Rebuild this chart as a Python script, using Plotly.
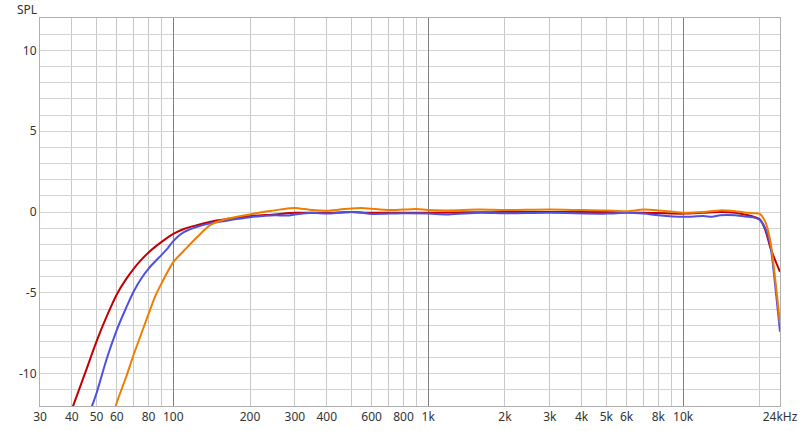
import plotly.graph_objects as go

# Frequencies (Hz) for each series
freq_red = [36, 40, 45, 50, 55, 60, 65, 70, 75, 80, 90, 100, 110, 125, 140, 160, 180, 200, 250, 300,
            400, 500, 600, 800, 1000, 1500, 2000, 3000, 5000, 7000, 10000, 12000, 14000, 16000,
            18000, 19000, 20000, 21000, 22000, 23000, 24000]
spl_red = [-14.0, -12.2, -10.0, -8.0, -6.4, -5.1, -4.2, -3.5, -2.95, -2.5, -1.85, -1.35, -1.05, -0.8,
           -0.6, -0.45, -0.35, -0.25, -0.15, -0.05, -0.05, 0.0, -0.05, -0.05, -0.05, -0.02, 0.0,
           0.0, 0.0, -0.05, -0.1, -0.05, 0.0, -0.05, -0.2, -0.3, -0.45, -1.1, -2.2, -3.0, -3.7]

freq_blue = [44, 48, 50, 55, 60, 65, 70, 75, 80, 85, 90, 95, 100, 110, 125, 140, 160, 180, 200, 250,
             280, 300, 350, 400, 450, 500, 550, 600, 800, 1000, 1200, 1600, 2000, 3000, 5000, 6000,
             7000, 8000, 10000, 12000, 13000, 14000, 16000, 18000, 19000, 20000, 21000, 22000,
             23000, 24000]
spl_blue = [-13.8, -12.0, -11.2, -9.0, -7.3, -6.0, -4.9, -4.1, -3.5, -3.05, -2.65, -2.25, -1.8, -1.25,
            -0.9, -0.7, -0.55, -0.42, -0.32, -0.2, -0.22, -0.15, -0.05, -0.1, -0.05, 0.0, -0.05,
            -0.12, -0.08, -0.1, -0.15, -0.05, -0.08, -0.05, -0.1, -0.05, -0.1, -0.2, -0.3, -0.25,
            -0.3, -0.2, -0.2, -0.3, -0.35, -0.5, -1.0, -2.1, -4.6, -7.4]

freq_orange = [55, 60, 65, 70, 75, 80, 85, 90, 100, 110, 125, 140, 160, 180, 200, 225, 250, 280, 300,
               350, 400, 450, 500, 550, 600, 700, 800, 900, 1000, 1200, 1600, 2000, 3000, 4000,
               5000, 6000, 7000, 8000, 10000, 12000, 14000, 16000, 18000, 19000, 20000, 21000,
               22000, 23000, 24000]
spl_orange = [-14.0, -11.8, -10.3, -8.8, -7.5, -6.3, -5.2, -4.4, -3.1, -2.4, -1.5, -0.8, -0.45,
              -0.28, -0.15, 0.0, 0.1, 0.22, 0.25, 0.12, 0.08, 0.15, 0.22, 0.25, 0.2, 0.12, 0.15,
              0.18, 0.12, 0.1, 0.15, 0.12, 0.15, 0.12, 0.1, 0.05, 0.15, 0.1, -0.05, 0.0, 0.1, 0.05,
              -0.05, -0.08, -0.12, -0.6, -1.8, -4.2, -6.9]

# Axis ticks
x_grid = [30, 40, 50, 60, 70, 80, 90, 100, 200, 300, 400, 500, 600, 700, 800, 900,
          1000, 2000, 3000, 4000, 5000, 6000, 7000, 8000, 9000, 10000, 20000, 24000]
x_text = ["30", "40", "50", "60", "", "80", "", "100", "200", "300", "400", "", "600", "",
          "800", "", "1k", "2k", "3k", "4k", "5k", "6k", "", "8k", "", "10k", "", "24kHz"]
decades = [100, 1000, 10000]
y_grid = list(range(-12, 13))
y_text = [str(v) if v % 5 == 0 else "" for v in y_grid]

fig = go.Figure()
fig.add_trace(go.Scatter(x=freq_red, y=spl_red, mode="lines", line=dict(color="#c00000", width=2, shape="spline", smoothing=0.8)))
fig.add_trace(go.Scatter(x=freq_blue, y=spl_blue, mode="lines", line=dict(color="#5050e0", width=2, shape="spline", smoothing=0.8)))
fig.add_trace(go.Scatter(x=freq_orange, y=spl_orange, mode="lines", line=dict(color="#f07c00", width=2, shape="spline", smoothing=0.8)))
# invisible trace to activate overlay axis for decade lines
fig.add_trace(go.Scatter(x=[30, 24000], y=[0, 0], mode="lines", line=dict(width=0), xaxis="x2",
                         hoverinfo="skip", showlegend=False, opacity=0))

font = dict(family="Noto Sans, Open Sans, sans-serif", size=12, color="#333333")
fig.update_layout(
    width=800, height=431,
    margin=dict(l=40, r=20, t=18, b=25, autoexpand=False),
    paper_bgcolor="white", plot_bgcolor="white",
    showlegend=False,
    font=font,
    xaxis=dict(type="log", range=[1.4771, 4.3802], tickmode="array", tickvals=x_grid, ticktext=x_text,
               showgrid=True, gridcolor="#c8c8c8", gridwidth=1, zeroline=False, tickangle=0,
               automargin=False, showline=True, linecolor="#b0b0b0", mirror=True, ticks="",
               tickfont=font),
    xaxis2=dict(type="log", range=[1.4771, 4.3802], overlaying="x", tickmode="array", tickvals=decades,
                showticklabels=False, showgrid=True, gridcolor="#808080", gridwidth=1, zeroline=False,
                showline=False, ticks="", automargin=False),
    yaxis=dict(range=[-12, 12], tickmode="array", tickvals=y_grid, ticktext=y_text,
               showgrid=True, gridcolor="#d4d4d4", gridwidth=1, zeroline=False, automargin=False,
               showline=True, linecolor="#b0b0b0", mirror=True, ticks="", tickfont=font),
    annotations=[dict(text="SPL", xref="paper", yref="paper", x=0, y=1, xanchor="right", yanchor="middle",
                      xshift=-1, yshift=9, showarrow=False, font=font)],
)
fig.write_html("out.html", config={"displayModeBar": False},
               post_script="document.body.style.margin='0';document.body.style.overflow='hidden';")
